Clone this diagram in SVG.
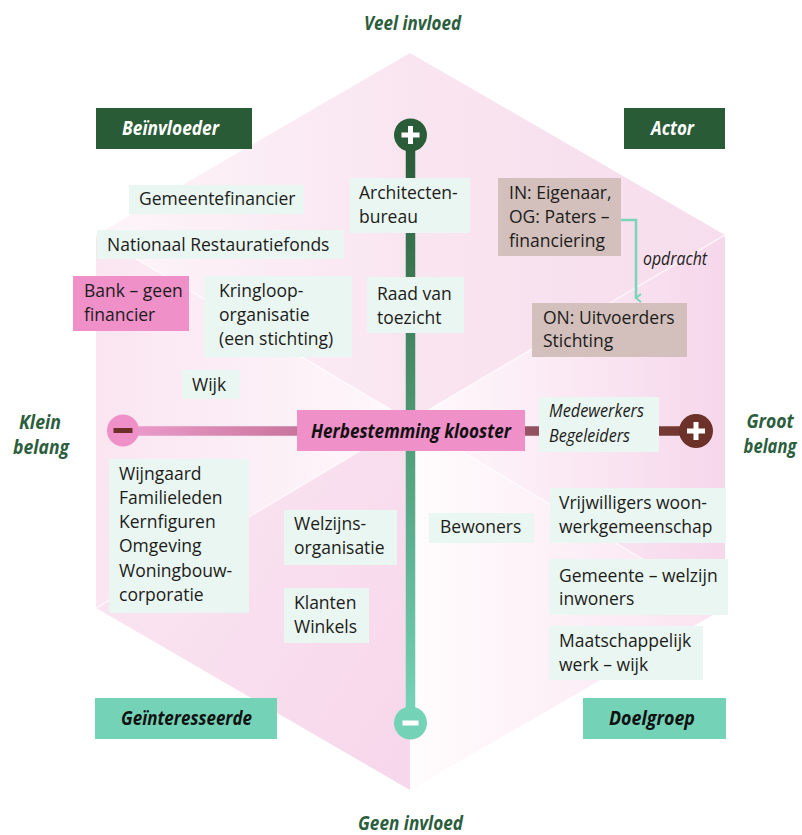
<svg xmlns="http://www.w3.org/2000/svg" width="802" height="835" viewBox="0 0 802 835">
<defs>
<style>
.t{font-family:"Open Sans","Liberation Sans",sans-serif;font-size:17.5px;fill:#1c1c1a}
.ti{font-family:"Open Sans","Liberation Sans",sans-serif;font-size:17.5px;font-style:italic;fill:#1c1c1a}
.h{font-family:"Open Sans","Liberation Sans",sans-serif;font-size:20px;font-style:italic;font-weight:700}
.hg{fill:#2b5e3c}
.box{fill:#eaf6f1}
.pink{fill:#ef90c9}
.taupe{fill:#d3c0bc}
.dg{fill:#295b37}
.mint{fill:#74d3b7}
.sep{stroke:#ffffff;stroke-width:1.5;stroke-opacity:0.6;fill:none}
</style>
<linearGradient id="gTL" x1="96" y1="0" x2="410" y2="0" gradientUnits="userSpaceOnUse"><stop offset="0" stop-color="#fdf5f9"/><stop offset="1" stop-color="#f9e5f0"/></linearGradient>
<linearGradient id="gTR" x1="410" y1="0" x2="725" y2="0" gradientUnits="userSpaceOnUse"><stop offset="0" stop-color="#f9e5f0"/><stop offset="1" stop-color="#f7dded"/></linearGradient>
<linearGradient id="gL" x1="96" y1="0" x2="410" y2="0" gradientUnits="userSpaceOnUse"><stop offset="0" stop-color="#fae5f1"/><stop offset="1" stop-color="#fef8fb"/></linearGradient>
<linearGradient id="gR" x1="410" y1="0" x2="725" y2="0" gradientUnits="userSpaceOnUse"><stop offset="0" stop-color="#fffafc"/><stop offset="1" stop-color="#f6d7eb"/></linearGradient>
<linearGradient id="gBL" x1="96" y1="560" x2="410" y2="760" gradientUnits="userSpaceOnUse"><stop offset="0" stop-color="#fae5f1"/><stop offset="1" stop-color="#f7d7eb"/></linearGradient>
<linearGradient id="gBR" x1="410" y1="0" x2="725" y2="0" gradientUnits="userSpaceOnUse"><stop offset="0" stop-color="#fffcfd"/><stop offset="1" stop-color="#fae3f0"/></linearGradient>
<linearGradient id="gV" x1="0" y1="150" x2="0" y2="710" gradientUnits="userSpaceOnUse"><stop offset="0" stop-color="#2a5c38"/><stop offset="0.5" stop-color="#4f9a76"/><stop offset="1" stop-color="#74d3b7"/></linearGradient>
<linearGradient id="gHL" x1="130" y1="0" x2="300" y2="0" gradientUnits="userSpaceOnUse"><stop offset="0" stop-color="#eb9ccb"/><stop offset="1" stop-color="#c8759c"/></linearGradient>
<linearGradient id="gHR" x1="525" y1="0" x2="690" y2="0" gradientUnits="userSpaceOnUse"><stop offset="0" stop-color="#955367"/><stop offset="1" stop-color="#70352c"/></linearGradient>
<marker id="arr" markerWidth="10" markerHeight="8" refX="5" refY="6" orient="auto" markerUnits="userSpaceOnUse" viewBox="0 0 10 8">
<path d="M1,1 L5,6 L9,1" fill="none" stroke="#79d4b8" stroke-width="2"/>
</marker>
</defs>

<g id="background">
<polygon points="410,53 96,235 410,421" fill="url(#gTL)"/>
<polygon points="410,53 725,235 410,421" fill="url(#gTR)"/>
<polygon points="96,235 96,608 410,421" fill="url(#gL)"/>
<polygon points="725,235 725,608 410,421" fill="url(#gR)"/>
<polygon points="96,608 410,790 410,421" fill="url(#gBL)"/>
<polygon points="725,608 410,790 410,421" fill="url(#gBR)"/>
<line class="sep" x1="96" y1="235" x2="410" y2="421"/>
<line class="sep" x1="725" y1="235" x2="410" y2="421"/>
<line class="sep" x1="96" y1="608" x2="410" y2="421"/>
<line class="sep" x1="725" y1="608" x2="410" y2="421"/>
</g>

<g id="axes">
<line x1="410.5" y1="145" x2="410.5" y2="712" stroke="url(#gV)" stroke-width="9.5"/>
<line x1="130" y1="431" x2="300" y2="431" stroke="url(#gHL)" stroke-width="9.5"/>
<line x1="520" y1="431" x2="690" y2="431" stroke="url(#gHR)" stroke-width="9.5"/>
<g id="plus-top"><circle cx="410.5" cy="135" r="16.5" fill="#2a5c38"/><rect x="401.5" y="132.5" width="18" height="5" fill="#fff"/><rect x="408" y="126" width="5" height="18" fill="#fff"/></g>
<g id="minus-bottom"><circle cx="410.5" cy="723" r="16.5" fill="#74d3b7"/><rect x="402.5" y="720.5" width="16" height="5" fill="#fff"/></g>
<g id="minus-left"><circle cx="123" cy="430.5" r="16" fill="#ef90c9"/><rect x="113.5" y="428" width="19" height="5" fill="#6d3029"/></g>
<g id="plus-right"><circle cx="696" cy="431" r="17" fill="#6c3129"/><rect x="687" y="428.5" width="18" height="5" fill="#fff"/><rect x="693.5" y="422" width="5" height="18" fill="#fff"/></g>
</g>

<g id="connectors">
<polyline points="621,220 636,220 636,298" fill="none" stroke="#79d4b8" stroke-width="2.5" marker-end="url(#arr)"/>
<text class="ti" x="643" y="265" font-size="16" textLength="64" lengthAdjust="spacingAndGlyphs">opdracht</text>
</g>

<g id="axis-labels">
<text class="h hg" x="412.5" y="30" text-anchor="middle" textLength="97" lengthAdjust="spacingAndGlyphs">Veel invloed</text>
<text class="h hg" x="410.5" y="830" text-anchor="middle" textLength="105" lengthAdjust="spacingAndGlyphs">Geen invloed</text>
<text class="h hg" x="40" y="429" text-anchor="middle" textLength="42" lengthAdjust="spacingAndGlyphs">Klein</text>
<text class="h hg" x="41" y="454" text-anchor="middle" textLength="56" lengthAdjust="spacingAndGlyphs">belang</text>
<text class="h hg" transform="translate(770,428) scale(0.8,1)" x="0" y="0" text-anchor="middle" textLength="59" lengthAdjust="spacingAndGlyphs">Groot</text>
<text class="h hg" transform="translate(770,453) scale(0.8,1)" x="0" y="0" text-anchor="middle" textLength="66" lengthAdjust="spacingAndGlyphs">belang</text>
</g>

<g id="beinvloeder"><rect class="dg" x="96" y="108" width="156" height="41"/><text class="h" x="170.5" y="135" fill="#fff" text-anchor="middle" textLength="97" lengthAdjust="spacingAndGlyphs">Beïnvloeder</text></g>
<g id="actor"><rect class="dg" x="624" y="108" width="101" height="41"/><text class="h" x="672.5" y="135" fill="#fff" text-anchor="middle" textLength="43" lengthAdjust="spacingAndGlyphs">Actor</text></g>
<g id="geinteresseerde"><rect class="mint" x="95" y="698" width="182" height="41"/><text class="h" x="186.5" y="725" fill="#111" text-anchor="middle" textLength="131" lengthAdjust="spacingAndGlyphs">Geïnteresseerde</text></g>
<g id="doelgroep"><rect class="mint" x="583" y="698" width="143" height="41"/><text class="h" x="652" y="725" fill="#111" text-anchor="middle" textLength="86" lengthAdjust="spacingAndGlyphs">Doelgroep</text></g>

<g id="herbestemming"><rect class="pink" x="297" y="410" width="228" height="41"/><text class="h" x="311" y="438" font-size="21" fill="#111" textLength="200" lengthAdjust="spacingAndGlyphs">Herbestemming klooster</text></g>

<g id="gemeentefinancier"><rect class="box" x="129" y="185" width="175" height="29"/><text class="t" x="139" y="205">Gemeentefinancier</text></g>
<g id="nationaal"><rect class="box" x="97" y="230" width="247" height="29"/><text class="t" x="107" y="251">Nationaal Restauratiefonds</text></g>
<g id="bank"><rect class="pink" x="73" y="276" width="116" height="55"/><text class="t" x="84" y="297">Bank – geen</text><text class="t" x="84" y="321">financier</text></g>
<g id="kringloop"><rect class="box" x="204" y="276" width="148" height="81"/><text class="t" x="219" y="297">Kringloop-</text><text class="t" x="219" y="321">organisatie</text><text class="t" x="219" y="345">(een stichting)</text></g>
<g id="wijk"><rect class="box" x="182" y="370" width="58" height="29"/><text class="t" x="192" y="391">Wijk</text></g>
<g id="architecten"><rect class="box" x="350" y="178" width="120" height="55"/><text class="t" x="359" y="199">Architecten-</text><text class="t" x="359" y="223">bureau</text></g>
<g id="raad"><rect class="box" x="367" y="277" width="97" height="56"/><text class="t" x="377" y="300">Raad van</text><text class="t" x="377" y="324">toezicht</text></g>
<g id="eigenaar"><rect class="taupe" x="498" y="178" width="123" height="78"/><text class="t" x="509" y="199">IN: Eigenaar,</text><text class="t" x="509" y="223">OG: Paters –</text><text class="t" x="509" y="247">financiering</text></g>
<g id="uitvoerders"><rect class="taupe" x="532" y="303" width="155" height="54"/><text class="t" x="543" y="324">ON: Uitvoerders</text><text class="t" x="543" y="347">Stichting</text></g>
<g id="medewerkers"><rect class="box" x="539" y="397" width="120" height="55"/><text class="ti" x="549" y="417" textLength="95" lengthAdjust="spacingAndGlyphs">Medewerkers</text><text class="ti" x="549" y="442" textLength="81" lengthAdjust="spacingAndGlyphs">Begeleiders</text></g>
<g id="wijngaard"><rect class="box" x="109" y="459" width="140" height="154"/><text class="t" x="119" y="480">Wijngaard</text><text class="t" x="119" y="504">Familieleden</text><text class="t" x="119" y="528">Kernfiguren</text><text class="t" x="119" y="552">Omgeving</text><text class="t" x="119" y="577">Woningbouw-</text><text class="t" x="119" y="601">corporatie</text></g>
<g id="welzijns"><rect class="box" x="284" y="510" width="113" height="55"/><text class="t" x="294" y="530">Welzijns-</text><text class="t" x="294" y="554">organisatie</text></g>
<g id="klanten"><rect class="box" x="284" y="588" width="85" height="55"/><text class="t" x="294" y="609">Klanten</text><text class="t" x="294" y="633">Winkels</text></g>
<g id="bewoners"><rect class="box" x="429" y="513" width="105" height="30"/><text class="t" x="440" y="533">Bewoners</text></g>
<g id="vrijwilligers"><rect class="box" x="550" y="488" width="176" height="55"/><text class="t" x="559" y="509">Vrijwilligers woon-</text><text class="t" x="559" y="533">werkgemeenschap</text></g>
<g id="gemeente-welzijn"><rect class="box" x="549" y="559" width="179" height="56"/><text class="t" x="559" y="582">Gemeente – welzijn</text><text class="t" x="559" y="605">inwoners</text></g>
<g id="maatschappelijk"><rect class="box" x="549" y="626" width="154" height="54"/><text class="t" x="559" y="647">Maatschappelijk</text><text class="t" x="559" y="671">werk – wijk</text></g>
</svg>
